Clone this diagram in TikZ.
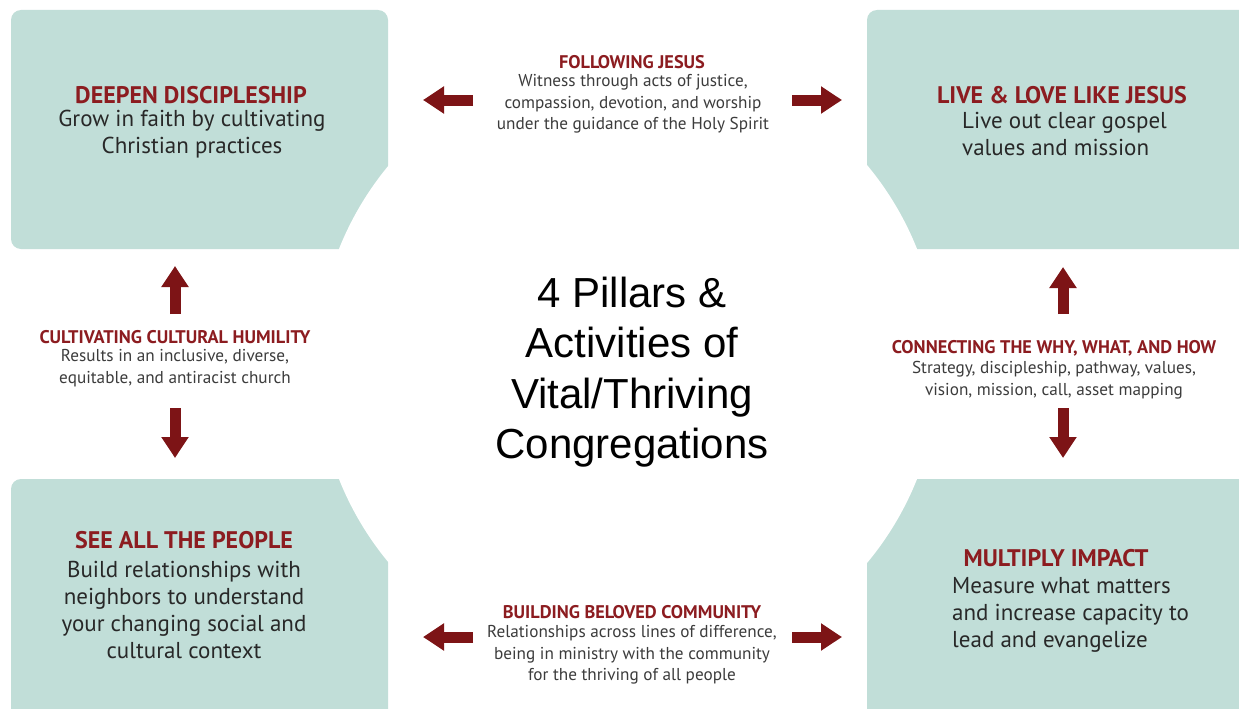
\documentclass[tikz,border=0pt]{standalone}
\usepackage{fontspec}
\setmainfont{PT Sans}
\newfontfamily\arialfont{Liberation Sans}
\usetikzlibrary{arrows.meta}
\definecolor{boxteal}{RGB}{193,222,216}
\definecolor{titlered}{RGB}{140,28,32}
\definecolor{arrowred}{RGB}{125,20,22}
\definecolor{bodygray}{RGB}{40,40,40}
\definecolor{smallgray}{RGB}{60,60,60}
\tikzset{
 pillar/.style={fill=boxteal, rounded corners=10pt},
 ptitle/.style={font=\fontsize{24}{28}\selectfont\bfseries, text=titlered, inner sep=0pt},
 pbody/.style={font=\fontsize{23}{27}\selectfont, text=bodygray, align=center, inner sep=0pt},
 pbodyl/.style={font=\fontsize{23}{27}\selectfont, text=bodygray, align=left, inner sep=0pt},
 atitle/.style={font=\fontsize{18.3}{21}\selectfont\bfseries, text=titlered, inner sep=0pt},
 abody/.style={font=\fontsize{17.2}{21.5}\selectfont, text=smallgray, align=center, inner sep=0pt},
 blockarrow/.style={draw=arrowred, line width=11pt, -{Triangle[width=26pt,length=21pt]}},
}
\begin{document}
\begin{tikzpicture}[x=1pt,y=-1pt]
\useasboundingbox (0,0) rectangle (1239,709);
\clip (0,0) rectangle (1239,709);
\fill[white] (0,0) rectangle (1239,709);
% pillars
\fill[pillar] (11,10) rectangle (388,249);
\fill[pillar] (867,10) rectangle (1260,249);
\fill[pillar] (11,479) rectangle (388,730);
\fill[pillar] (867,479) rectangle (1260,730);
\fill[white] (628,364) circle (311pt);
% pillar texts
\node[ptitle] (t1) at (191,95) {DEEPEN DISCIPLESHIP};
\node[pbody] (b1) at (192,134) {Grow in faith by cultivating\\Christian practices};
\node[ptitle] (t2) at (1062,95) {LIVE \& LOVE LIKE JESUS};
\node[pbodyl, anchor=west] (b2) at (962,134) {Live out clear gospel\\values and mission};
\node[ptitle] (t3) at (184,540) {SEE ALL THE PEOPLE};
\node[pbody] (b3) at (184,610) {Build relationships with\\neighbors to understand\\your changing social and\\cultural context};
\node[ptitle] (t4) at (1056,558) {MULTIPLY IMPACT};
\node[pbodyl, anchor=west] (b4) at (952,615) {Measure what matters\\and increase capacity to\\lead and evangelize};
% activity texts
\node[atitle] (at1) at (632,62) {FOLLOWING JESUS};
\node[abody] (ab1) at (633,104) {Witness through acts of justice,\\compassion, devotion, and worship\\under the guidance of the Holy Spirit};
\node[atitle] (at2) at (632,612) {BUILDING BELOVED COMMUNITY};
\node[abody] (ab2) at (632,655) {Relationships across lines of difference,\\being in ministry with the community\\for the thriving of all people};
\node[atitle] (at3) at (175,337) {CULTIVATING CULTURAL HUMILITY};
\node[abody] (ab3) at (175,368) {Results in an inclusive, diverse,\\equitable, and antiracist church};
\node[atitle] (at4) at (1054,348) {CONNECTING THE WHY, WHAT, AND HOW};
\node[abody] (ab4) at (1054,380) {Strategy, discipleship, pathway, values,\\vision, mission, call, asset mapping};
% centre title
\node[font=\arialfont\fontsize{42}{50.5}\selectfont, align=center, text=black] (ctr) at (632,372) {4 Pillars \&\\Activities of\\Vital/Thriving\\Congregations};
% arrows
\coordinate (a1s) at (473,100); \coordinate (a1e) at (423,100);
\coordinate (a2s) at (792,100); \coordinate (a2e) at (842,100);
\coordinate (a3s) at (473,637); \coordinate (a3e) at (423,637);
\coordinate (a4s) at (792,637); \coordinate (a4e) at (842,637);
\coordinate (a5s) at (175,314); \coordinate (a5e) at (175,266);
\coordinate (a6s) at (175,408); \coordinate (a6e) at (175,458);
\coordinate (a7s) at (1063,314); \coordinate (a7e) at (1063,267);
\coordinate (a8s) at (1063,408); \coordinate (a8e) at (1063,458);
\foreach \i in {1,...,8} { \draw[blockarrow] (a\i s) -- (a\i e); }
\end{tikzpicture}
\end{document}
